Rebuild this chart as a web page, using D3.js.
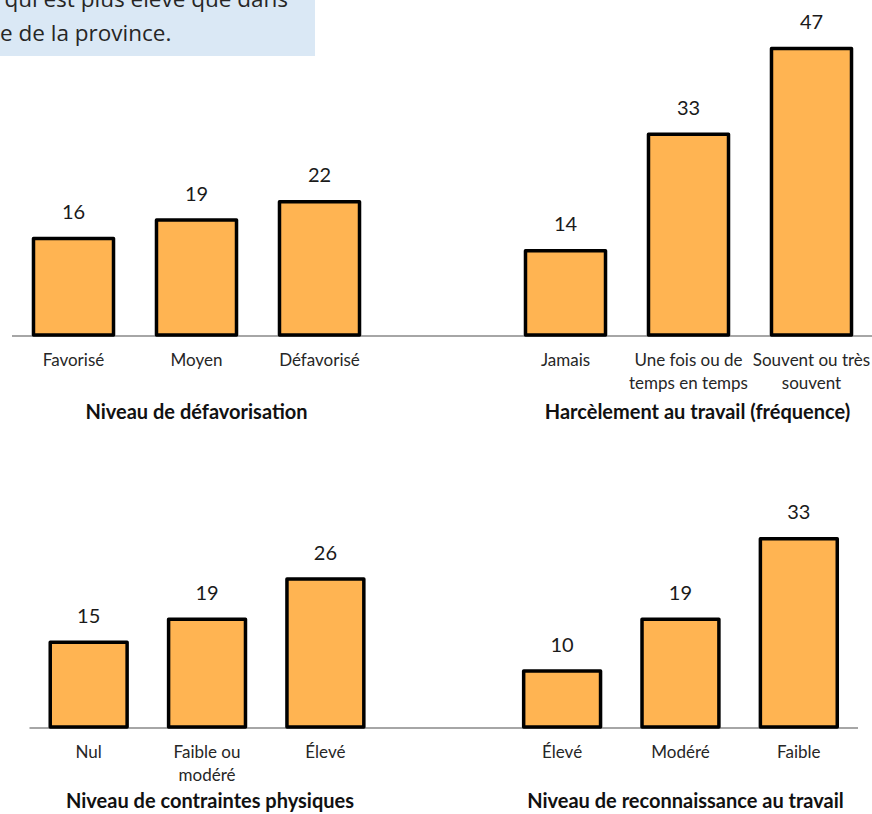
<!DOCTYPE html>
<html>
<head>
<meta charset="utf-8">
<script src="https://cdn.jsdelivr.net/npm/d3@7"></script>
<style>
  html, body { margin: 0; padding: 0; background: #ffffff; }
  svg { display: block; }
</style>
</head>
<body>
<script>
// ---- Data ----
const noteLines = ["qui est plus élevé que dans", "e de la province."];

const defavCategories = ["Favorisé", "Moyen", "Défavorisé"];
const defavValues = [16, 19, 22];
const defavTitle = "Niveau de défavorisation";

const harcCategories = ["Jamais", "Une fois ou de|temps en temps", "Souvent ou très|souvent"];
const harcValues = [14, 33, 47];
const harcTitle = "Harcèlement au travail (fréquence)";

const contrCategories = ["Nul", "Faible ou|modéré", "Élevé"];
const contrValues = [15, 19, 26];
const contrTitle = "Niveau de contraintes physiques";

const reconCategories = ["Élevé", "Modéré", "Faible"];
const reconValues = [10, 19, 33];
const reconTitle = "Niveau de reconnaissance au travail";

// ---- Layout ----
const W = 872, H = 814;
const svg = d3.select("body").append("svg").attr("width", W).attr("height", H);

// note box (cropped at the page's top edge, as in the source)
svg.append("rect").attr("x", 0).attr("y", 0).attr("width", 315).attr("height", 56).attr("fill", "#dae8f5");
svg.append("text").attr("x", 288).attr("y", 7).attr("text-anchor", "end")
  .attr("font-family", "'Open Sans', sans-serif").attr("font-size", 22.5).attr("fill", "#262626")
  .text(noteLines[0]);
svg.append("text").attr("x", 0).attr("y", 41)
  .attr("font-family", "'Open Sans', sans-serif").attr("font-size", 22.5).attr("fill", "#262626")
  .text(noteLines[1]);

function drawRow(cfg) {
  const left = cfg.left, right = cfg.right;
  const keys = left.cats.map((c, i) => "L" + i).concat(["gap"]).concat(right.cats.map((c, i) => "R" + i));
  const x = d3.scaleBand().domain(keys).range([cfg.x0, cfg.x1]).paddingInner(0.325).paddingOuter(0.1625);
  const y = d3.scaleLinear().domain([0, 50]).range([cfg.base, cfg.base - 50 * cfg.ppu]);

  const items = left.cats.map((c, i) => ({ key: "L" + i, cat: c, v: left.vals[i] }))
    .concat(right.cats.map((c, i) => ({ key: "R" + i, cat: c, v: right.vals[i] })));

  const g = svg.append("g");
  // axis line
  g.append("line").attr("x1", cfg.x0).attr("x2", cfg.x1).attr("y1", y(0) + 1).attr("y2", y(0) + 1)
    .attr("stroke", "#a6a6a6").attr("stroke-width", 2);

  // bars
  g.selectAll("rect.bar").data(items).join("rect").attr("class", "bar")
    .attr("x", d => x(d.key) + 1.5).attr("width", x.bandwidth() - 3)
    .attr("y", d => y(d.v) + 1.5).attr("height", d => y(0) - y(d.v) - 1.5)
    .attr("fill", "#ffb452").attr("stroke", "#000").attr("stroke-width", 3.5)
    .attr("stroke-linejoin", "round");

  // value labels
  g.selectAll("text.val").data(items).join("text").attr("class", "val")
    .attr("x", d => x(d.key) + x.bandwidth() / 2).attr("y", d => y(d.v) - 18)
    .attr("text-anchor", "middle").attr("font-family", "Lato, sans-serif").attr("font-size", 20)
    .attr("fill", "#1a1a1a").text(d => d.v);

  // category labels
  const cl = g.selectAll("text.cat").data(items).join("text").attr("class", "cat")
    .attr("x", d => x(d.key) + x.bandwidth() / 2).attr("y", y(0) + 31)
    .attr("text-anchor", "middle").attr("font-family", "Lato, sans-serif").attr("font-size", 17)
    .attr("fill", "#262626");
  cl.each(function (d) {
    const lines = d.cat.split("|");
    d3.select(this).selectAll("tspan").data(lines).join("tspan")
      .attr("x", x(d.key) + x.bandwidth() / 2).attr("dy", (l, i) => i === 0 ? 0 : 22.5).text(l => l);
  });

  // titles
  const lc = (x(keys[0]) + x(keys[left.cats.length - 1]) + x.bandwidth()) / 2;
  const rc = (x(keys[left.cats.length + 1]) + x(keys[keys.length - 1]) + x.bandwidth()) / 2;
  [[left.title, lc + left.dx], [right.title, rc + right.dx]].forEach(([t, cx]) => {
    g.append("text").attr("x", cx).attr("y", cfg.titleY).attr("text-anchor", "middle")
      .attr("font-family", "Lato, sans-serif").attr("font-weight", "bold").attr("font-size", 20)
      .attr("fill", "#111").text(t);
  });
}

drawRow({
  x0: 12, x1: 873, base: 335, ppu: 6.13, titleY: 419,
  left: { cats: defavCategories, vals: defavValues, title: defavTitle, dx: 0 },
  right: { cats: harcCategories, vals: harcValues, title: harcTitle, dx: 9 }
});
drawRow({
  x0: 29.5, x1: 858, base: 727, ppu: 5.75, titleY: 808,
  left: { cats: contrCategories, vals: contrValues, title: contrTitle, dx: 3 },
  right: { cats: reconCategories, vals: reconValues, title: reconTitle, dx: 5 }
});
</script>
</body>
</html>
